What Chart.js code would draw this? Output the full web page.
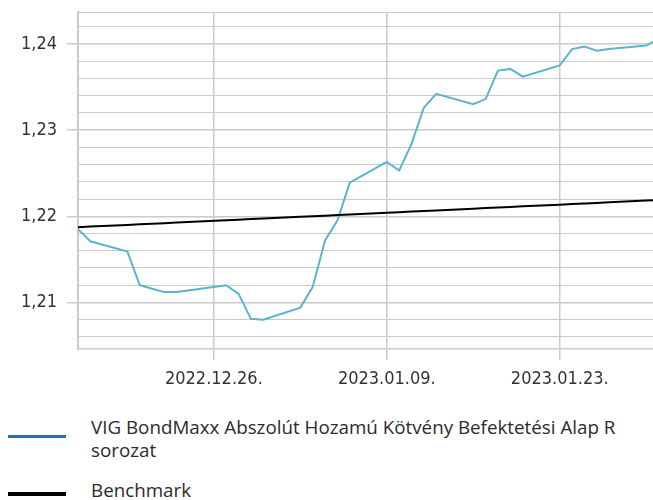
<!DOCTYPE html>
<html>
<head>
<meta charset="utf-8">
<script src="https://cdn.jsdelivr.net/npm/chart.js@4.4.1/dist/chart.umd.min.js"></script>
<style>
  html, body { margin: 0; padding: 0; background: #fff; }
  #wrap { position: relative; width: 653px; height: 500px; overflow: hidden; }
  #chart { position: absolute; left: 0; top: 0; }
  .key { position: absolute; left: 8px; width: 58px; }
  .lbl { position: absolute; left: 91px; width: 545px; font-family: 'Open Sans', sans-serif;
         font-size: 18.8px; line-height: 23.3px; color: #2b2b2b; }
</style>
</head>
<body>
<div id="wrap">
  <canvas id="chart" width="653" height="400"></canvas>
  <div class="key" id="key0" style="top:435px;height:3px"></div>
  <div class="lbl" id="lbl0" style="top:416px"></div>
  <div class="key" id="key1" style="top:492px;height:4px"></div>
  <div class="lbl" id="lbl1" style="top:479px"></div>
</div>
<script>
// adatok
const dates = ['2022-12-15', '2022-12-16', '2022-12-19', '2022-12-20', '2022-12-21', '2022-12-22',
  '2022-12-23', '2022-12-27', '2022-12-28', '2022-12-29', '2022-12-30', '2023-01-02', '2023-01-03',
  '2023-01-04', '2023-01-05', '2023-01-06', '2023-01-09', '2023-01-10', '2023-01-11', '2023-01-12',
  '2023-01-13', '2023-01-16', '2023-01-17', '2023-01-18', '2023-01-19', '2023-01-20', '2023-01-23',
  '2023-01-24', '2023-01-25', '2023-01-26', '2023-01-27', '2023-01-30', '2023-01-31'];

const fundValues = [1.2185, 1.2171, 1.2159, 1.2120, 1.2116, 1.2112,
  1.2112, 1.2120, 1.2110, 1.2081, 1.2080, 1.2094, 1.2118,
  1.2172, 1.2195, 1.2239, 1.2263, 1.2253, 1.2284, 1.2326,
  1.2342, 1.2330, 1.2336, 1.2369, 1.2371, 1.2362, 1.2375,
  1.2394, 1.2397, 1.2392, 1.2394, 1.2398, 1.2406];

const benchmarkValues = [1.21873, 1.21880, 1.21900, 1.21907, 1.21913, 1.21920,
  1.21927, 1.21954, 1.21960, 1.21967, 1.21974, 1.21994, 1.22001,
  1.22007, 1.22014, 1.22021, 1.22041, 1.22048, 1.22054, 1.22061,
  1.22068, 1.22088, 1.22095, 1.22101, 1.22108, 1.22115, 1.22135,
  1.22142, 1.22149, 1.22155, 1.22162, 1.22182, 1.22189];

const seriesNames = ['VIG BondMaxx Abszolút Hozamú Kötvény Befektetési Alap R sorozat', 'Benchmark'];
const xTickDates = ['2022-12-26', '2023-01-09', '2023-01-23'];
const yTickLabels = [1.21, 1.22, 1.23, 1.24];

const DAY = 86400000;
const toTime = s => Date.parse(s + 'T00:00:00Z');
const pad2 = n => String(n).padStart(2, '0');
const fmtDate = t => {
  const d = new Date(t);
  return d.getUTCFullYear() + '.' + pad2(d.getUTCMonth() + 1) + '.' + pad2(d.getUTCDate()) + '.';
};
const isMajor = v => yTickLabels.some(m => Math.abs(m - v) < 1e-7);

const GRID = '#cacaca';
const tickFont = { family: "'DejaVu Sans Condensed', 'DejaVu Sans', sans-serif", size: 18 };

// jelmagyarázat html-ben
const legendColors = ['#1b75bc', '#000000'];
seriesNames.forEach((name, i) => {
  document.getElementById('key' + i).style.background = legendColors[i];
  document.getElementById('lbl' + i).textContent = name;
});

new Chart(document.getElementById('chart'), {
  type: 'line',
  data: {
    datasets: [
      {
        label: seriesNames[0],
        data: dates.map((d, i) => ({ x: toTime(d), y: fundValues[i] })),
        borderColor: '#5ab4cd',
        borderWidth: 2,
        pointRadius: 0,
        tension: 0,
        order: 1
      },
      {
        label: seriesNames[1],
        data: dates.map((d, i) => ({ x: toTime(d), y: benchmarkValues[i] })),
        borderColor: '#000000',
        borderWidth: 2,
        pointRadius: 0,
        tension: 0,
        order: 0
      }
    ]
  },
  options: {
    responsive: false,
    animation: false,
    layout: { padding: { top: 12, left: 0, right: 0, bottom: 0 } },
    plugins: { legend: { display: false }, tooltip: { enabled: false } },
    scales: {
      x: {
        type: 'linear',
        min: toTime(dates[0]),
        max: toTime('2023-01-30') + 0.55 * DAY,
        afterBuildTicks: s => { s.ticks = xTickDates.map(d => ({ value: toTime(d) })); },
        afterFit: s => { s.height = 51; s.paddingLeft = 0; s.paddingRight = 0; },
        border: { color: GRID, width: 1.5 },
        grid: { color: GRID, lineWidth: 1.5, tickLength: 11, tickColor: GRID },
        ticks: {
          autoSkip: false, maxRotation: 0, padding: 9, color: '#333', font: tickFont,
          callback: v => fmtDate(v)
        }
      },
      y: {
        min: 1.2046,
        max: 1.2437,
        afterBuildTicks: s => {
          const t = [];
          for (let i = 0; i <= 18; i++) t.push({ value: +(1.206 + i * 0.002).toFixed(3) });
          t.push({ value: s.max });
          s.ticks = t;
        },
        afterFit: s => { s.width = 78; s.paddingTop = 0; s.paddingBottom = 0; },
        border: { color: GRID, width: 2 },
        grid: {
          color: GRID,
          lineWidth: c => (c.tick && isMajor(c.tick.value)) ? 1.5 : 1,
          tickLength: 11,
          tickColor: c => (c.tick && isMajor(c.tick.value)) ? GRID : 'rgba(0,0,0,0)'
        },
        ticks: {
          autoSkip: false, padding: 10, color: '#333', font: tickFont,
          callback: v => isMajor(v) ? v.toFixed(2).replace('.', ',') : ''
        }
      }
    }
  }
});
</script>
</body>
</html>
